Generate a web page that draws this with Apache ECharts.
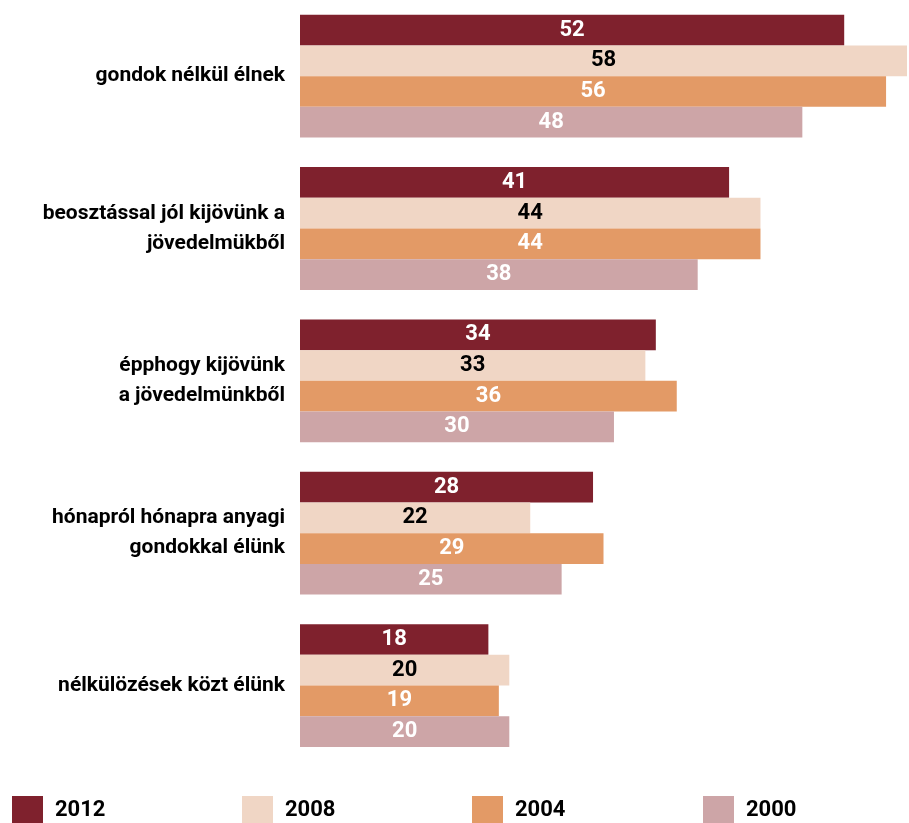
<!DOCTYPE html>
<html>
<head>
<meta charset="utf-8">
<script src="https://cdn.jsdelivr.net/npm/echarts@6/dist/echarts.min.js"></script>
<style>html,body{margin:0;padding:0;background:#fff}#c{width:909px;height:823px}</style>
</head>
<body>
<div id="c"></div>
<script>
const categories = ['gondok nélkül élnek', 'beosztással jól kijövünk a\njövedelmükből', 'épphogy kijövünk\na jövedelmünkből', 'hónapról hónapra anyagi\ngondokkal élünk', 'nélkülözések közt élünk'];
const years = ['2012', '2008', '2004', '2000'];
const v2012 = [52, 41, 34, 28, 18];
const v2008 = [58, 44, 33, 22, 20];
const v2004 = [56, 44, 36, 29, 19];
const v2000 = [48, 38, 30, 25, 20];
const colors = ['#7F212D', '#F0D6C5', '#E39A66', '#CDA5A7'];
const labelColors = ['#fff', '#000', '#fff', '#fff'];
const values = [v2012, v2008, v2004, v2000];
const FONT = 'Roboto, "Liberation Sans", sans-serif';

const chart = echarts.init(document.getElementById('c'), null, {renderer: 'canvas'});
const legendX = [12, 242, 472, 703];
const option = {
  animation: false,
  grid: {left: 300, top: -4.3, width: 607, height: 766, containLabel: false},
  xAxis: {type: 'value', min: 0, max: 58, show: false, splitLine: {show: false}},
  yAxis: {
    type: 'category', data: categories, inverse: true,
    axisLine: {show: false}, axisTick: {show: false}, splitLine: {show: false},
    axisLabel: {fontFamily: FONT, fontWeight: 'bold', fontSize: 21, lineHeight: 30, color: '#000', margin: 15, align: 'right'}
  },
  legend: years.map((y, i) => ({
    data: [y], left: legendX[i], top: 796, padding: 0, itemWidth: 31, itemHeight: 28, icon: 'rect',
    textStyle: {fontFamily: FONT, fontWeight: 'bold', fontSize: 22, color: '#000', padding: [0, 0, 0, 7]},
    selectedMode: false
  })),
  series: years.map((y, i) => ({
    name: y, type: 'bar', data: values[i], barWidth: 30.7, barGap: '0%',
    itemStyle: {color: colors[i]},
    label: {show: true, position: 'inside', color: labelColors[i], fontFamily: FONT, fontWeight: 'bold', fontSize: 22}
  }))
};
chart.setOption(option);
</script>
</body>
</html>
